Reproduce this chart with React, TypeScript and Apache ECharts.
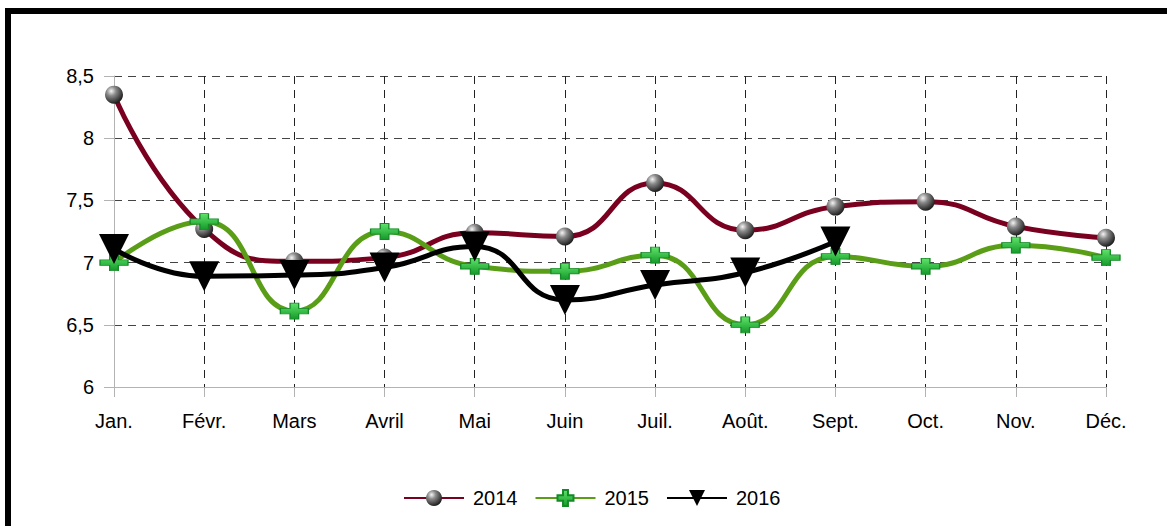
import React, { useEffect, useRef } from "react";
import * as echarts from "echarts";

const months = ["Jan.", "Févr.", "Mars", "Avril", "Mai", "Juin", "Juil.", "Août.", "Sept.", "Oct.", "Nov.", "Déc."];
const s2014 = [8.35, 7.27, 7.01, 7.04, 7.24, 7.21, 7.64, 7.26, 7.45, 7.49, 7.29, 7.2];
const s2015 = [7.0, 7.33, 6.61, 7.25, 6.97, 6.93, 7.06, 6.5, 7.05, 6.97, 7.14, 7.04];
const s2016 = [7.11, 6.89, 6.9, 6.96, 7.13, 6.7, 6.82, 6.92, 7.17];
const yTicks = { min: 6, max: 8.5, interval: 0.5 };

const FONT = "Liberation Sans, Arial, sans-serif";
const PLUS = "path://M9,0 L17,0 L17,6 L26,6 L26,12 L17,12 L17,18 L9,18 L9,12 L0,12 L0,6 L9,6 Z";

export default function App() {
  const ref = useRef<HTMLDivElement>(null);
  useEffect(() => {
    if (!ref.current) return;
    const chart = echarts.init(ref.current, null, { renderer: "svg" });
    const sphere = new echarts.graphic.RadialGradient(0.35, 0.3, 0.75, [
      { offset: 0, color: "#f4f4f4" },
      { offset: 0.35, color: "#8a8a8a" },
      { offset: 1, color: "#151515" },
    ]);
    const green = new echarts.graphic.LinearGradient(0, 0, 0, 1, [
      { offset: 0, color: "#5fe36a" },
      { offset: 1, color: "#159a2a" },
    ]);
    const grid = { left: 114, right: 61, top: 76, bottom: 139 };
    chart.setOption({
      animation: false,
      backgroundColor: "#ffffff",
      textStyle: { fontFamily: FONT },
      graphic: [
        {
          type: "rect",
          shape: { x: 8, y: 11, width: 3000, height: 3000 },
          style: { fill: "none", stroke: "#000", lineWidth: 6 },
          silent: true,
          z: 100,
        },
      ],
      grid,
      legend: {
        bottom: 13,
        left: 398,
        itemWidth: 60,
        itemHeight: 20,
        itemGap: 17,
        textStyle: { fontSize: 20, color: "#000", fontFamily: FONT, padding: [0, 0, 0, 4] },
        data: ["2014", "2015", "2016"],
      },
      xAxis: {
        type: "category",
        boundaryGap: false,
        data: months,
        axisLine: { show: true, lineStyle: { color: "#b3b3b3", width: 1 } },
        axisTick: { show: true, length: 10, interval: 0, lineStyle: { color: "#b3b3b3" } },
        axisLabel: { interval: 0, margin: 24, fontSize: 20, color: "#000", fontFamily: FONT },
        splitLine: { show: true, interval: 0, lineStyle: { color: "#222", type: [8, 6], width: 1 } },
      },
      yAxis: {
        type: "value",
        min: yTicks.min,
        max: yTicks.max,
        interval: yTicks.interval,
        axisLine: { show: true, lineStyle: { color: "#b3b3b3", width: 1 } },
        axisTick: { show: true, length: 10, lineStyle: { color: "#b3b3b3" } },
        axisLabel: {
          margin: 20,
          fontSize: 20,
          color: "#000",
          fontFamily: FONT,
          formatter: (v: number) => String(v).replace(".", ","),
        },
        splitLine: { show: true, lineStyle: { color: "#444", type: [8, 6], width: 1 } },
      },
      series: [
        {
          name: "2014",
          type: "line",
          data: s2014,
          smooth: 0.5,
          symbol: "circle",
          symbolSize: 18,
          lineStyle: { color: "#7a0020", width: 5 },
          itemStyle: { color: sphere, borderWidth: 0 },
          z: 2,
        },
        {
          name: "2015",
          type: "line",
          data: s2015,
          smooth: 0.5,
          symbol: PLUS,
          symbolSize: [28, 16],
          lineStyle: { color: "#5a9e17", width: 5 },
          itemStyle: { color: green, borderColor: "#138a26", borderWidth: 1 },
          z: 3,
        },
        {
          name: "2016",
          type: "line",
          data: s2016,
          smooth: 0.5,
          symbol: "triangle",
          symbolRotate: 180,
          symbolSize: [30, 30],
          lineStyle: { color: "#000", width: 5 },
          itemStyle: { color: "#000" },
          z: 4,
        },
      ],
    });
    return () => chart.dispose();
  }, []);
  return (
    <div
      ref={ref}
      style={{ position: "fixed", left: 0, top: 0, width: 1167, height: 526 }}
    />
  );
}
